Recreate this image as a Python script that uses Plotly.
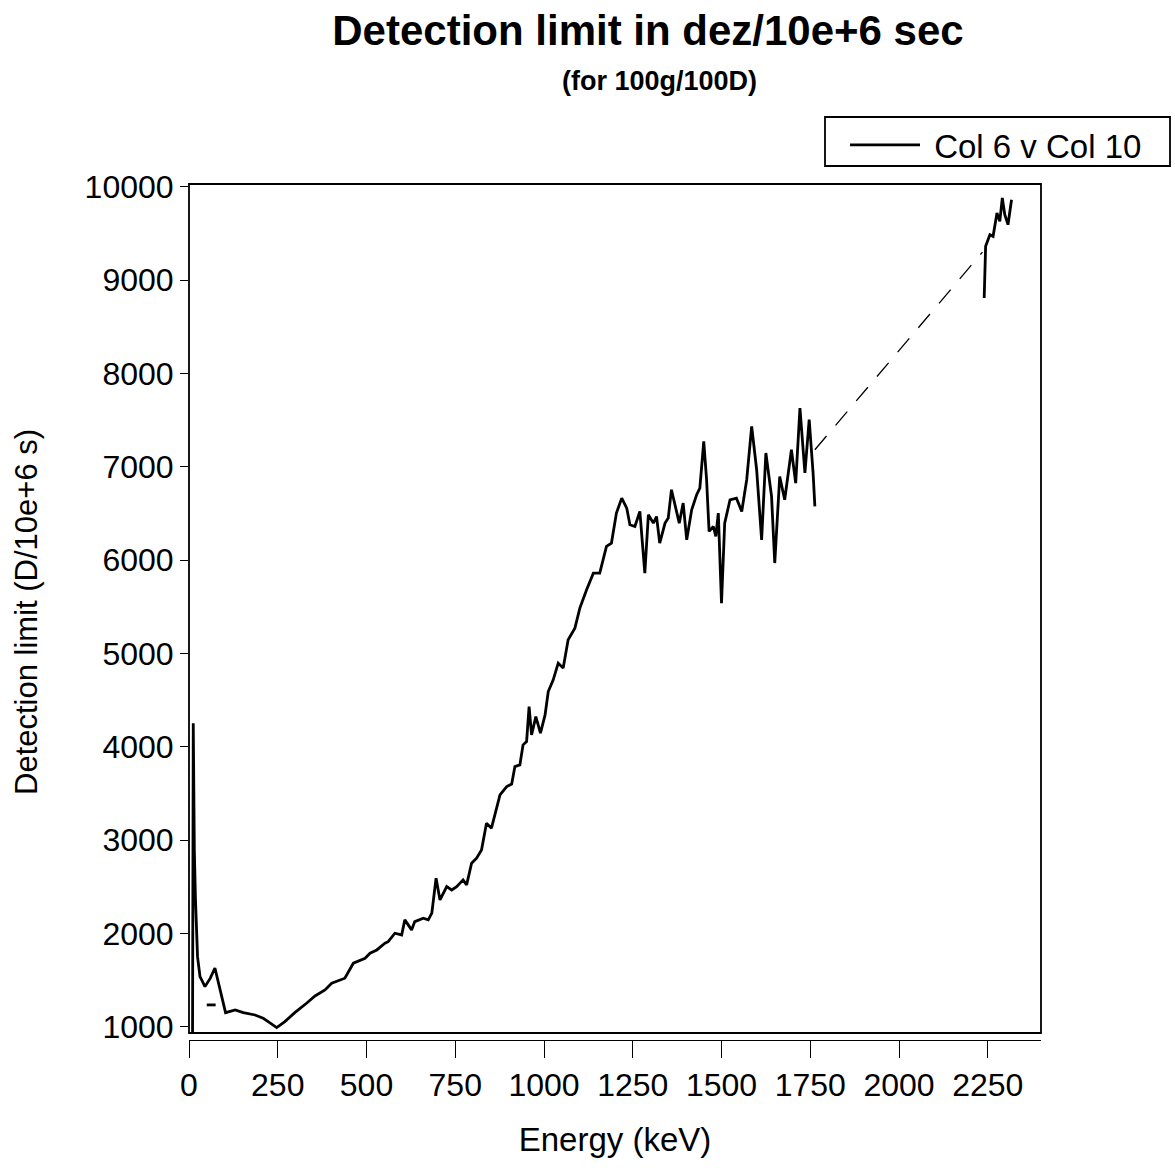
import plotly.graph_objects as go

# ---- data ----
energy = [10, 12, 15, 18, 24, 31, 45, 60, 73, 88, 103, 130, 153, 186, 209, 223, 247, 270, 298, 331,
          355, 383, 402, 439, 463, 496, 510, 529, 552, 561, 580, 599, 608, 627, 636, 660, 674, 684,
          696, 707, 726, 740, 754, 772, 782, 796, 810, 824, 838, 852, 866, 876, 895, 909, 918, 932,
          941, 951, 958, 965, 977, 990, 1003, 1012, 1026, 1040, 1054, 1068, 1087, 1101, 1120, 1139,
          1157, 1176, 1190, 1204, 1219, 1233, 1242, 1256, 1270, 1284, 1294, 1308, 1317, 1326, 1341,
          1350, 1359, 1369, 1381, 1392, 1402, 1416, 1430, 1439, 1450, 1458, 1465, 1477, 1484, 1491,
          1500, 1509, 1524, 1542, 1557, 1571, 1585, 1599, 1613, 1625, 1641, 1650, 1664, 1678, 1697,
          1709, 1721, 1735, 1747, 1758, 1763,
          None,
          2240, 2244, 2256, 2265, 2276, 2284, 2291, 2298, 2307, 2317]
limit = [935, 4250, 2900, 2390, 1750, 1536, 1429, 1520, 1629, 1400, 1150, 1179, 1150, 1125, 1090, 1054,
         990, 1054, 1150, 1251, 1329, 1393, 1465, 1519, 1680, 1733, 1787, 1822, 1894, 1911, 2001, 1983,
         2144, 2037, 2126, 2162, 2144, 2216, 2591, 2358, 2501, 2465, 2501, 2573, 2519, 2752, 2805, 2894,
         3180, 3127, 3323, 3484, 3573, 3600, 3787, 3805, 4020, 4055, 4430, 4127, 4323, 4145, 4341, 4591,
         4717, 4896, 4842, 5145, 5271, 5485, 5681, 5860, 5860, 6146, 6182, 6504, 6664, 6557, 6378, 6360,
         6521, 5860, 6485, 6396, 6467, 6182, 6396, 6450, 6754, 6593, 6396, 6611, 6217, 6539, 6700, 6771,
         7271, 6861, 6307, 6360, 6253, 6504, 5539, 6396, 6646, 6664, 6521, 6861, 7432, 6968, 6217, 7147,
         6682, 5968, 6896, 6646, 7182, 6825, 7629, 6933, 7504, 6933, 6575,
         None,
         8808, 9362, 9487, 9469, 9720, 9630, 9881, 9702, 9594, 9862]

gap_x = [1763, 2235]
gap_y = [7182, 9300]

stray_x = [50, 75]
stray_y = [1233, 1233]

x_ticks = [0, 250, 500, 750, 1000, 1250, 1500, 1750, 2000, 2250]
y_ticks = [1000, 2000, 3000, 4000, 5000, 6000, 7000, 8000, 9000, 10000]
y_labels = [str(v) for v in y_ticks]

FONT = "Liberation Sans, Arial, Helvetica, sans-serif"

# plot-area geometry in pixels (for paper-coordinate conversions)
PL, PR, PB, PT = 189, 1041, 1040, 184
def px_x(p):
    return (p - PL) / (PR - PL)
def px_y(p):
    return (PB - p) / (PB - PT)

fig = go.Figure()
fig.add_trace(go.Scatter(x=energy, y=limit, mode="lines", name="\u00a0Col 6 v Col 10",
                         line=dict(color="black", width=2.8), connectgaps=False))
fig.add_trace(go.Scatter(x=gap_x, y=gap_y, mode="lines", showlegend=False,
                         line=dict(color="black", width=1.3, dash="18px,14px")))
fig.add_trace(go.Scatter(x=stray_x, y=stray_y, mode="lines", showlegend=False,
                         line=dict(color="black", width=2.8)))

fig.update_layout(
    width=1175, height=1168,
    paper_bgcolor="white", plot_bgcolor="white",
    margin=dict(l=PL, r=1175 - PR, t=PT, b=1168 - PB, autoexpand=False),
    font=dict(family=FONT, color="black", size=30),
    title=dict(text="<b>Detection limit in dez/10e+6 sec</b>", x=648/1175, xanchor="center",
               xref="container", y=1-30/1168, yref="container", yanchor="middle",
               font=dict(size=42, family=FONT, color="black")),
    annotations=[dict(text="<b>(for 100g/100D)</b>", xref="paper", yref="paper",
                      x=px_x(659), y=px_y(81), xanchor="center", yanchor="middle",
                      showarrow=False, font=dict(size=27, family=FONT, color="black")),
                 dict(text="Detection limit (D/10e+6 s)", xref="paper", yref="paper",
                      x=px_x(26), y=px_y(612), xanchor="center", yanchor="middle",
                      textangle=-90, showarrow=False,
                      font=dict(size=31, family=FONT, color="black"))],
    showlegend=True,
    legend=dict(x=px_x(845), y=px_y(117), xanchor="left", yanchor="top",
                borderwidth=0, bgcolor="rgba(0,0,0,0)",
                font=dict(size=33, family=FONT, color="black"), itemwidth=70),
    shapes=[dict(type="rect", xref="x domain", yref="y domain", x0=0, x1=1, y0=0, y1=1,
                 line=dict(color="black", width=1.8), layer="above"),
            dict(type="rect", xref="paper", yref="paper", x0=px_x(825), x1=px_x(1170),
                 y0=px_y(166), y1=px_y(117), line=dict(color="black", width=1.8))],
    xaxis=dict(range=[0, 2400], anchor="free", position=0, showline=True, linecolor="black",
               linewidth=1, ticks="outside", ticklen=17, tickwidth=1.3, tickcolor="black",
               tickvals=x_ticks, showgrid=False, zeroline=False, ticklabelstandoff=0,
               tickfont=dict(size=32, family=FONT),
               title=dict(text="Energy (keV)", standoff=25, font=dict(size=33, family=FONT))),
    yaxis=dict(range=[932, 10030], domain=[7/856, 1], showline=False, ticks="outside", ticklen=8,
               tickwidth=1.3, tickcolor="black", tickvals=y_ticks, ticktext=y_labels,
               showgrid=False, zeroline=False, tickfont=dict(size=32, family=FONT)),
)

fig.write_html("out.html")
